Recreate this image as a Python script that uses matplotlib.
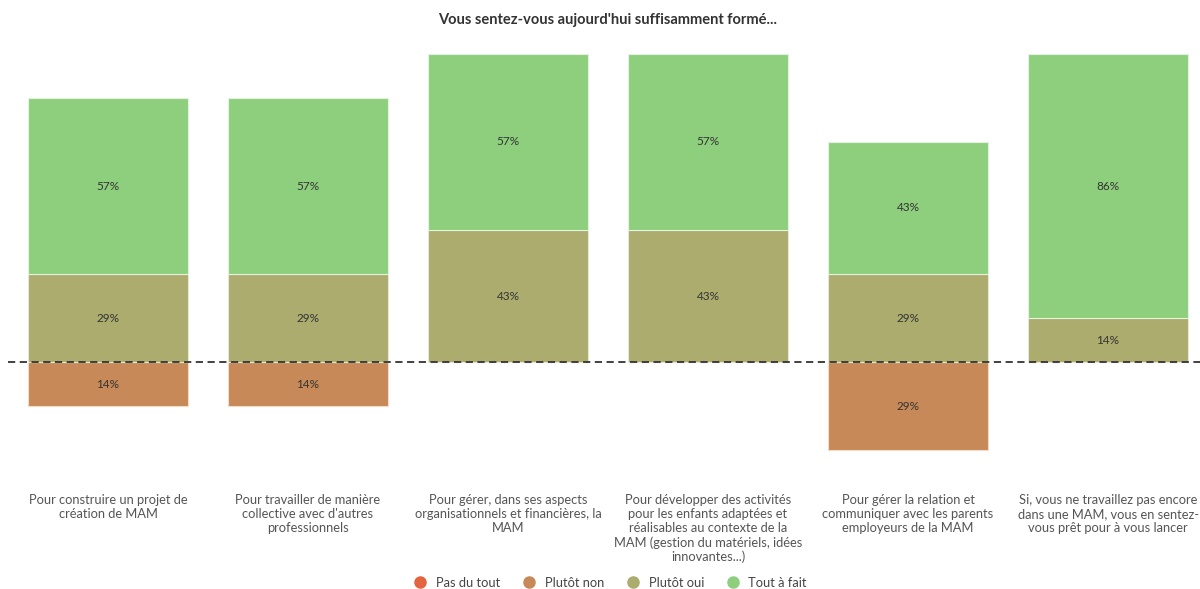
import matplotlib
matplotlib.use("Agg")
import matplotlib.pyplot as plt
from matplotlib.lines import Line2D
import numpy as np

plt.rcParams['font.family'] = ['Lato', 'DejaVu Sans']

title = "Vous sentez-vous aujourd'hui suffisamment formé..."
categories = [
    "Pour construire un projet de\ncréation de MAM",
    "Pour travailler de manière\ncollective avec d'autres\nprofessionnels",
    "Pour gérer, dans ses aspects\norganisationnels et financières, la\nMAM",
    "Pour développer des activités\npour les enfants adaptées et\nréalisables au contexte de la\nMAM (gestion du matériels, idées\ninnovantes...)",
    "Pour gérer la relation et\ncommuniquer avec les parents\nemployeurs de la MAM",
    "Si, vous ne travaillez pas encore\ndans une MAM, vous en sentez-\nvous prêt pour à vous lancer",
]
series_names = ["Pas du tout", "Plutôt non", "Plutôt oui", "Tout à fait"]
pas_du_tout = [0, 0, 0, 0, 0, 0]
plutot_non = [14.3, 14.3, 0, 0, 28.6, 0]
plutot_oui = [28.6, 28.6, 42.9, 42.9, 28.6, 14.3]
tout_a_fait = [57.1, 57.1, 57.1, 57.1, 42.9, 85.7]
colors = ["#e4643f", "#c78957", "#abac6e", "#8ecf7e"]

fig = plt.figure(figsize=(12, 5.89), dpi=100)
W, H = 1200, 589
# axes: x from px 8 to 1208 ; y value 100 at px 54, value -35 at px 470
ax = fig.add_axes([8 / W, (H - 470) / H, 1200 / W, 416 / H])
x = np.arange(len(categories))
bw = 0.8

neg1 = np.array(plutot_non)
neg2 = np.array(pas_du_tout)
pos1 = np.array(plutot_oui)
pos2 = np.array(tout_a_fait)

ax.bar(x, -neg1, bw, bottom=0, color=colors[1], edgecolor="#f3dcc6", linewidth=0.8)
ax.bar(x, -neg2, bw, bottom=-neg1, color=colors[0], linewidth=0)
ax.bar(x, pos1, bw, bottom=0, color=colors[2], edgecolor="#e6e8d4", linewidth=0.8)
ax.bar(x, pos2, bw, bottom=pos1, color=colors[3], edgecolor="#e3f3df", linewidth=0.8)

txt = dict(ha="center", va="center", fontsize=8.5, color="#333333")
for i in range(len(categories)):
    if neg1[i] > 0:
        ax.text(x[i], -neg1[i] / 2, f"{neg1[i]:.0f}%", **txt)
    if neg2[i] > 0:
        ax.text(x[i], -neg1[i] - neg2[i] / 2, f"{neg2[i]:.0f}%", **txt)
    if pos1[i] > 0:
        ax.text(x[i], pos1[i] / 2, f"{pos1[i]:.0f}%", **txt)
    if pos2[i] > 0:
        ax.text(x[i], pos1[i] + pos2[i] / 2, f"{pos2[i]:.0f}%", **txt)

ax.axhline(0, color="#333333", linestyle=(0, (4, 2.5)), linewidth=1.3, zorder=5)
ax.set_xlim(-0.5, 5.5)
ax.set_ylim(-35, 100)
ax.axis("off")

for i, c in enumerate(categories):
    fig.text((8 + 200 * i + 100) / W, 1 - 494 / H, c, ha="center", va="top",
             fontsize=9.3, color="#555555", linespacing=1.2)

fig.text(0.506, 1 - 20 / H, title, ha="center", va="center", fontsize=10.5,
         color="#333333", fontweight="bold")

handles = [Line2D([], [], marker="o", linestyle="none", markersize=8,
                  markerfacecolor=c, markeredgecolor=c) for c in colors]
fig.legend(handles, series_names, loc="center", bbox_to_anchor=(0.506, 1 - 583 / H),
           ncol=4, frameon=False, fontsize=9.3, handletextpad=0.2,
           columnspacing=1.25, labelcolor="#444444")

fig.savefig("out.png", dpi=100)
